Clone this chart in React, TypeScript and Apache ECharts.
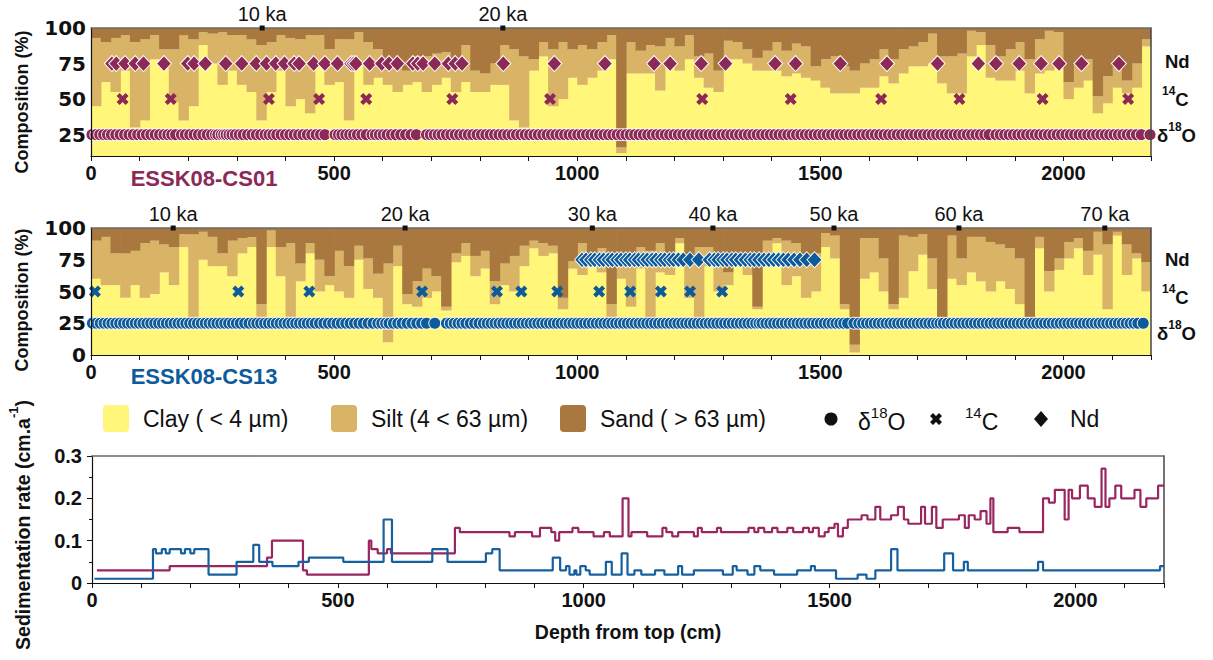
import React, { useEffect, useRef } from 'react';
import * as echarts from 'echarts';

// ---------- data ----------
const DEPTH_MAX = 2180;
const BIN_CM = 20; // composition sampled in 20-cm intervals

// Grain size composition, ESSK08-CS01 (clay %, clay+silt %), one value per 20 cm bin
const cs01Clay = [
  45, 62, 55, 70, 30, 35, 78, 72, 48, 35,
  45, 88, 75, 60, 70, 60, 55, 35, 55, 70,
  45, 50, 40, 75, 60, 62, 35, 75, 60, 65,
  60, 55, 60, 62, 55, 60, 65, 55, 62, 55,
  55, 60, 60, 35, 30, 70, 80, 45, 50, 65,
  60, 65, 70, 78, 12, 68, 68, 68, 56, 73,
  70, 78, 65, 58, 55, 78, 78, 75, 70, 70,
  70, 66, 68, 65, 63, 58, 54, 54, 54, 58,
  58, 66, 61, 68, 73, 73, 75, 61, 54, 54,
  80, 88, 65, 63, 63, 70, 54, 68, 70, 72,
  50, 58, 63, 40, 47, 58, 54, 58, 87,
];
const cs01ClaySilt = [
  93, 90, 93, 95, 90, 92, 95, 85, 85, 95,
  92, 97, 96, 97, 95, 95, 92, 88, 90, 95,
  93, 92, 95, 95, 85, 92, 92, 97, 90, 85,
  78, 75, 70, 80, 80, 82, 83, 78, 88, 70,
  68, 75, 88, 85, 80, 78, 90, 85, 90, 85,
  88, 85, 90, 95, 16, 90, 84, 88, 87, 93,
  87, 95, 80, 82, 70, 91, 90, 85, 79, 84,
  90, 84, 89, 87, 73, 78, 80, 73, 70, 75,
  78, 85, 78, 85, 87, 90, 96, 80, 80, 82,
  98, 97, 88, 80, 85, 90, 78, 92, 98, 97,
  62, 75, 78, 52, 66, 73, 63, 75, 92,
];
// ESSK08-CS13
const cs13Clay = [
  60, 55, 55, 45, 55, 45, 48, 65, 55, 85,
  25, 75, 70, 70, 62, 80, 85, 30, 85, 62,
  30, 58, 80, 50, 55, 50, 45, 75, 52, 45,
  10, 70, 40, 38, 45, 50, 35, 73, 78, 62,
  68, 40, 55, 50, 70, 84, 78, 80, 36, 68,
  63, 70, 65, 30, 60, 38, 68, 20, 65, 63,
  88, 45, 25, 70, 50, 55, 76, 63, 36, 76,
  88, 55, 62, 45, 50, 85, 76, 36, 2, 60,
  65, 50, 36, 45, 66, 79, 52, 25, 60, 55,
  65, 58, 50, 58, 52, 40, 28, 84, 50, 67,
  76, 84, 63, 79, 36, 94, 63, 76, 50,
];
const cs13ClaySilt = [
  90, 93, 80, 80, 82, 88, 90, 87, 85, 95,
  95, 97, 93, 80, 90, 92, 93, 40, 98, 85,
  88, 72, 88, 75, 62, 82, 70, 86, 76, 64,
  72, 86, 48, 58, 68, 62, 38, 80, 88, 78,
  82, 58, 72, 78, 86, 90, 88, 86, 45, 74,
  88, 76, 84, 40, 76, 80, 85, 82, 88, 80,
  92, 75, 85, 85, 78, 65, 80, 75, 38, 90,
  92, 90, 88, 76, 80, 96, 94, 40, 8, 92,
  92, 76, 40, 94, 93, 95, 76, 30, 94, 76,
  93, 93, 89, 87, 84, 76, 30, 93, 66, 76,
  89, 92, 82, 97, 87, 97, 87, 80, 73,
];

// Sample depths (cm) for each analysis
const cs01O18 = [
  2, 10, 18, 26, 34, 42, 51, 60, 69, 78, 87, 96, 105, 114, 123, 132, 141, 150, 158, 166, 174,
  186, 194, 203, 212, 221, 230, 239, 248, 256, 261,
  268, 273, 278, 284, 290, 297, 305, 313, 322, 331, 340, 349, 358, 366, 374, 382, 391, 400, 409, 418, 427, 436, 445, 454, 463, 472, 481,
  502, 509, 516, 524, 532, 540, 548, 557, 566, 578,
  585, 593, 601, 609, 618, 627, 637, 647, 658, 669,
  690, 698, 706, 714, 722, 731, 740, 749, 758, 767, 776, 785, 794, 803, 812, 821, 830, 839, 848, 857,
  866, 875, 884, 893, 902, 911, 920, 929, 938, 947, 956, 965, 974, 983, 992, 1001, 1010, 1019, 1028, 1037,
  1046, 1055, 1064, 1073, 1082, 1091, 1100, 1109, 1118, 1127, 1136, 1145, 1154, 1163, 1172, 1181, 1190, 1199,
  1208, 1217, 1226, 1235, 1244, 1253, 1262, 1271, 1280, 1289, 1298, 1307, 1316, 1325, 1334, 1343, 1352, 1361,
  1370, 1379, 1388, 1397, 1406, 1415, 1424, 1433, 1442, 1451, 1460, 1469, 1478, 1487, 1496, 1505, 1514, 1523,
  1532, 1541, 1550, 1559, 1568, 1577, 1586, 1595, 1604, 1613, 1622, 1631, 1640, 1649, 1658, 1667, 1676, 1685,
  1694, 1703, 1712, 1721, 1730, 1739, 1748, 1757, 1766, 1775, 1784, 1793, 1802, 1811, 1820, 1829, 1838, 1847,
  1861, 1870, 1879, 1888, 1897, 1906, 1915, 1924, 1933, 1942, 1951, 1960, 1969, 1978, 1987, 1996, 2005, 2014,
  2023, 2032, 2041, 2050, 2059, 2068, 2077, 2086, 2095, 2104, 2113, 2122, 2131, 2140, 2150, 2160, 2178,
];
const cs01C14 = [65, 164, 366, 469, 566, 743, 944, 1257, 1439, 1625, 1786, 1957, 2133];
const cs01Nd = [
  43, 52, 70, 91, 108, 150, 199, 212, 235, 277, 310, 340, 361, 380, 398, 418, 428, 458, 481, 507,
  535, 540, 545, 573, 598, 613, 630, 662, 672, 683, 707, 735, 749, 763, 848, 953, 1057,
  1158, 1191, 1255, 1305, 1407, 1449, 1541, 1637, 1741, 1825, 1861, 1909, 1954, 1991, 2037, 2114,
];
const cs13O18 = [
  3, 11, 19, 27, 35, 43, 51, 59, 67, 75, 83, 91, 99, 107, 115, 123, 131, 139, 147, 155, 163, 171,
  179, 187, 195, 203, 211, 219, 227, 235, 243, 251, 259, 267, 275, 283, 291, 299, 307, 316, 325, 334,
  341, 349, 357, 365, 373, 381, 389, 397, 405, 413, 421, 429, 437, 445, 453, 461, 470, 479, 488, 497,
  506, 515, 524, 533, 542, 551, 560, 570, 580, 590, 598, 606,
  613, 622, 631, 640, 650, 660, 670, 680, 690, 707,
  731, 739, 747, 755, 763, 771, 780, 789, 798, 807, 815, 823, 831, 839, 847, 855, 863, 871, 879, 887,
  895, 903, 911, 919, 927, 935, 943, 951, 959, 967, 975, 983, 991, 999, 1007, 1015, 1023, 1031, 1039,
  1047, 1055, 1063, 1071, 1079, 1087, 1095, 1103, 1111, 1119, 1127, 1135, 1143, 1151, 1159, 1167, 1175,
  1183, 1191, 1199, 1207, 1215, 1223, 1231, 1239, 1247, 1255, 1263, 1271, 1279, 1287, 1295, 1303, 1311,
  1319, 1327, 1335, 1343, 1351, 1359, 1367, 1374,
  1380, 1388, 1396, 1404, 1412, 1420, 1428, 1436, 1444, 1452, 1460, 1468, 1476, 1484, 1492, 1500, 1508,
  1516, 1524, 1532, 1540, 1548, 1556, 1569,
  1579, 1587, 1595, 1603, 1611, 1619, 1627, 1635, 1643, 1651, 1659, 1667, 1675, 1683, 1691, 1699, 1707,
  1715, 1723, 1731, 1739, 1746,
  1753, 1761, 1769, 1777, 1785, 1793, 1801, 1809, 1817, 1825, 1833, 1841, 1849, 1857, 1865, 1873, 1881,
  1889, 1897, 1905, 1913, 1921, 1929, 1937, 1945, 1953, 1961, 1969, 1977, 1985, 1993, 2001, 2009, 2017,
  2025, 2033, 2041, 2049, 2057, 2065, 2073, 2081, 2089, 2097, 2105, 2113, 2121, 2129, 2137, 2145, 2153, 2164,
];
const cs13C14 = [8, 303, 449, 681, 835, 885, 959, 1045, 1109, 1172, 1232, 1298];
const cs13Nd = [
  1010, 1018, 1028, 1036, 1046, 1054, 1064, 1072, 1082, 1090, 1100, 1108, 1118, 1126, 1136, 1144,
  1154, 1162, 1172, 1180, 1190, 1198, 1208, 1218, 1232, 1250, 1272, 1282, 1290, 1300, 1308, 1318,
  1326, 1336, 1346, 1356, 1364, 1374, 1384, 1394, 1404, 1414, 1424, 1434, 1446, 1458, 1472, 1488,
];

// Age tie points along the top of each core
const cs01AgeDepth = [352, 847];
const cs01AgeLabel = ['10 ka', '20 ka'];
const cs13AgeDepth = [169, 646, 1031, 1279, 1528, 1785, 2085];
const cs13AgeLabel = ['10 ka', '20 ka', '30 ka', '40 ka', '50 ka', '60 ka', '70 ka'];

// Sedimentation rate (cm/a): depth where each step starts, and its value
const cs01SedDepth = [
  10, 158, 356, 366, 429, 437, 563, 568, 581, 600, 608, 738, 748, 849, 860, 895, 911, 934, 942, 950,
  977, 989, 1020, 1041, 1053, 1079, 1091, 1097, 1129, 1160, 1168, 1180, 1192, 1224, 1232, 1240, 1271, 1279, 1335, 1347,
  1355, 1367, 1383, 1394, 1414, 1426, 1446, 1458, 1466, 1478, 1490, 1498, 1510, 1517, 1527, 1537, 1565, 1577, 1593, 1603,
  1625, 1639, 1651, 1660, 1686, 1694, 1708, 1717, 1730, 1763, 1775, 1783, 1795, 1807, 1819, 1827, 1833, 1862, 1886, 1934,
  1946, 1958, 1978, 1986, 1993, 2009, 2025, 2039, 2053, 2061, 2069, 2081, 2093, 2120, 2132, 2144, 2168,
];
const cs01SedRate = [
  0.03, 0.04, 0.06, 0.10, 0.03, 0.02, 0.10, 0.08, 0.07, 0.08, 0.07, 0.13, 0.12, 0.11, 0.12, 0.11, 0.13, 0.12, 0.10, 0.12,
  0.13, 0.12, 0.11, 0.12, 0.11, 0.20, 0.11, 0.12, 0.11, 0.13, 0.12, 0.11, 0.12, 0.11, 0.13, 0.12, 0.13, 0.12, 0.13, 0.12,
  0.13, 0.12, 0.13, 0.12, 0.13, 0.12, 0.13, 0.12, 0.13, 0.11, 0.12, 0.13, 0.14, 0.11, 0.13, 0.15, 0.16, 0.15, 0.18, 0.15,
  0.16, 0.18, 0.15, 0.14, 0.18, 0.14, 0.18, 0.13, 0.15, 0.16, 0.13, 0.16, 0.15, 0.17, 0.14, 0.20, 0.12, 0.13, 0.12, 0.20,
  0.19, 0.22, 0.15, 0.22, 0.20, 0.23, 0.20, 0.18, 0.27, 0.18, 0.20, 0.23, 0.20, 0.22, 0.18, 0.20, 0.23,
];
const cs13SedDepth = [
  5, 124, 130, 142, 150, 158, 181, 189, 200, 208, 237, 294, 328, 340, 367, 420, 441, 511, 593, 610,
  692, 723, 801, 814, 829, 937, 952, 964, 971, 981, 985, 993, 1004, 1012, 1033, 1045, 1057, 1077, 1089, 1103,
  1117, 1145, 1164, 1192, 1200, 1224, 1283, 1303, 1311, 1333, 1347, 1359, 1387, 1434, 1462, 1470, 1513, 1557, 1575, 1593,
  1625, 1638, 1733, 1751, 1773, 1781, 1924, 1934, 2172,
];
const cs13SedRate = [
  0.01, 0.08, 0.07, 0.08, 0.07, 0.08, 0.07, 0.08, 0.07, 0.08, 0.02, 0.05, 0.09, 0.05, 0.04, 0.05, 0.06, 0.05, 0.15, 0.05,
  0.08, 0.05, 0.07, 0.08, 0.03, 0.06, 0.03, 0.04, 0.02, 0.03, 0.02, 0.04, 0.03, 0.02, 0.02, 0.05, 0.02, 0.07, 0.02, 0.03,
  0.02, 0.03, 0.02, 0.04, 0.02, 0.03, 0.02, 0.04, 0.03, 0.02, 0.04, 0.03, 0.02, 0.03, 0.04, 0.03, 0.01, 0.02, 0.01, 0.03,
  0.08, 0.03, 0.07, 0.03, 0.05, 0.03, 0.05, 0.03, 0.04,
];

// ---------- style ----------
const CLAY = '#fff67a';
const SILT = '#d9b467';
const SAND = '#a9783f';
const PURPLE = '#8c2956';
const BLUE = '#0d5b9a';
const LINE_PURPLE = '#9a2660';
const LINE_BLUE = '#17609f';
const SANS = "'Liberation Sans', Arial, Helvetica, sans-serif";
const NARROW = "'Liberation Sans Narrow', 'Liberation Sans', Arial, sans-serif";
const WIDE = "'DejaVu Sans', 'Liberation Sans', sans-serif";
const CROSS = 'path://M2.5,0 L5,2.5 L7.5,0 L10,2.5 L7.5,5 L10,7.5 L7.5,10 L5,7.5 L2.5,10 L0,7.5 L2.5,5 L0,2.5 Z';

function layers(clay: number[], claySilt: number[]) {
  const c: number[][] = [], s: number[][] = [], d: number[][] = [];
  clay.forEach((v, i) => {
    const x0 = i * BIN_CM;
    const x1 = Math.min((i + 1) * BIN_CM, DEPTH_MAX);
    c.push([x0, x1, 0, v]);
    s.push([x0, x1, v, claySilt[i]]);
    d.push([x0, x1, claySilt[i], 100]);
  });
  return [c, s, d];
}

function rectRenderer(color: string) {
  return (params: any, api: any) => {
    const a = api.coord([api.value(0), api.value(3)]);
    const b = api.coord([api.value(1), api.value(2)]);
    const cs = params.coordSys;
    const shape = echarts.graphic.clipRectByRect(
      { x: a[0], y: a[1], width: b[0] - a[0] + 0.7, height: b[1] - a[1] },
      { x: cs.x, y: cs.y, width: cs.width, height: cs.height }
    );
    if (!shape) return null;
    return { type: 'rect', shape, style: { fill: color } };
  };
}

function compSeries(gi: number, clay: number[], claySilt: number[]) {
  const [c, s, d] = layers(clay, claySilt);
  const mk = (data: number[][], color: string) => ({
    type: 'custom',
    xAxisIndex: gi * 2,
    yAxisIndex: gi * 2,
    renderItem: rectRenderer(color),
    encode: { x: [0, 1], y: [2, 3] },
    data,
    z: 1,
    silent: true,
  });
  return [mk(c, CLAY), mk(s, SILT), mk(d, SAND)];
}

function markerSeries(gi: number, color: string, o18: number[], c14: number[], nd: number[], ageD: number[], ageL: string[]) {
  const base = { type: 'scatter', xAxisIndex: gi * 2, yAxisIndex: gi * 2, clip: false, silent: true };
  return [
    { ...base, symbol: 'circle', symbolSize: 12, z: 6, data: o18.map((d) => [d, 25]),
      itemStyle: { color, borderColor: '#ffffff', borderWidth: 1, opacity: 1 } },
    { ...base, symbol: CROSS, symbolSize: 12, z: 6, data: c14.map((d) => [d, 50]),
      itemStyle: { color, opacity: 1 } },
    { ...base, symbol: 'diamond', symbolSize: [15, 16], z: 6, data: nd.map((d) => [d, 75]),
      itemStyle: { color, borderColor: '#ffffff', borderWidth: 1, opacity: 1 } },
    { ...base, symbol: 'rect', symbolSize: 5, z: 12, data: ageD.map((d) => [d, 100]),
      itemStyle: { color: '#111', opacity: 1 },
      label: { show: true, position: 'top', distance: 2, color: '#111', fontFamily: SANS, fontSize: 20,
        formatter: (p: any) => ageL[p.dataIndex] } },
  ];
}

function stepData(depths: number[], rates: number[]) {
  const out = depths.map((d, i) => [d, rates[i]]);
  out.push([DEPTH_MAX, rates[rates.length - 1]]);
  return out;
}

const xBottom = (gi: number) => ({
  type: 'value', gridIndex: gi, min: 0, max: DEPTH_MAX, interval: 100, position: 'bottom', z: 10,
  axisLine: { show: true, onZero: false, lineStyle: { color: '#111', width: 1.2 } },
  axisTick: { show: true, length: 5, lineStyle: { color: '#111', width: 1 } },
  axisLabel: { show: true, margin: 7, color: '#111', fontFamily: SANS, fontWeight: 'bold', fontSize: 20,
    formatter: (v: number) => (v % 500 === 0 ? String(v) : '') },
  splitLine: { show: false },
});
const xTop = (gi: number) => ({
  type: 'value', gridIndex: gi, min: 0, max: DEPTH_MAX, position: 'top', z: 10,
  axisLine: { show: true, onZero: false, lineStyle: { color: '#6a6a6a', width: 1.5 } },
  axisTick: { show: false }, axisLabel: { show: false }, splitLine: { show: false },
});
const yRight = (gi: number, min: number, max: number) => ({
  type: 'value', gridIndex: gi, min, max, position: 'right', z: 10,
  axisLine: { show: true, onZero: false, lineStyle: { color: '#444', width: 1.5 } },
  axisTick: { show: false }, axisLabel: { show: false }, splitLine: { show: false },
});

function rich(main: string, sup: string, after: string, size: number, weight: string, family: string, supFirst = false) {
  const r = {
    m: { fontSize: size, fontWeight: weight, fontFamily: family, fill: '#111', color: '#111', lineHeight: size + 6, verticalAlign: 'bottom' },
    s: { fontSize: Math.round(size * 0.66), fontWeight: weight, fontFamily: family, fill: '#111', color: '#111', lineHeight: Math.round(size * 0.75), verticalAlign: 'top' },
  };
  const text = supFirst ? `{s|${sup}}{m|${after}}` : `{m|${main}}{s|${sup}}{m|${after}}`;
  return { text, rich: r };
}

function textEl(x: number, y: number, text: string, size: number, weight: string, family: string, fill = '#111', align = 'left', rotation = 0) {
  return {
    type: 'text', x, y, rotation, z: 20,
    style: { text, fill, fontSize: size, fontWeight: weight, fontFamily: family,
      align, textAlign: align, verticalAlign: 'middle', textVerticalAlign: 'middle' },
  };
}
function richEl(x: number, y: number, r: any, align = 'left', rotation = 0) {
  return {
    type: 'text', x, y, rotation, z: 20,
    style: { ...r, fill: '#111', align, textAlign: align, verticalAlign: 'middle', textVerticalAlign: 'middle' },
  };
}

export default function App() {
  const ref = useRef<HTMLDivElement>(null);
  useEffect(() => {
    document.body.style.margin = '0';
    if (!ref.current) return;
    const chart = echarts.init(ref.current, undefined, { renderer: 'svg' });

    const grids = [
      { left: 91, top: 28, width: 1060, height: 128 },
      { left: 91, top: 228, width: 1060, height: 127 },
      { left: 92, top: 456, width: 1072, height: 127 },
    ];

    const option: any = {
      animation: false,
      backgroundColor: '#ffffff',
      grid: grids.map((g) => ({ ...g, containLabel: false })),
      xAxis: [xBottom(0), xTop(0), xBottom(1), xTop(1), xBottom(2), xTop(2)],
      yAxis: [
        { type: 'value', gridIndex: 0, min: 10, max: 100, interval: 5, z: 10,
          axisLine: { show: true, onZero: false, lineStyle: { color: '#111', width: 1.2 } },
          axisTick: { show: false }, splitLine: { show: false },
          axisLabel: { margin: 5, color: '#111', fontFamily: WIDE, fontWeight: 'bold', fontSize: 20,
            formatter: (v: number) => ([25, 50, 75, 100].includes(v) ? String(v) : '') } },
        yRight(0, 10, 100),
        { type: 'value', gridIndex: 1, min: 0, max: 100, interval: 25, z: 10,
          axisLine: { show: true, onZero: false, lineStyle: { color: '#111', width: 1.2 } },
          axisTick: { show: false }, splitLine: { show: false },
          axisLabel: { margin: 5, color: '#111', fontFamily: WIDE, fontWeight: 'bold', fontSize: 20 } },
        yRight(1, 0, 100),
        { type: 'value', gridIndex: 2, min: 0, max: 0.3, interval: 0.1, z: 10,
          axisLine: { show: true, onZero: false, lineStyle: { color: '#111', width: 1.2 } },
          axisTick: { show: true, length: 5, lineStyle: { color: '#111' } },
          minorTick: { show: true, splitNumber: 2, length: 3, lineStyle: { color: '#111' } },
          splitLine: { show: false },
          axisLabel: { margin: 10, color: '#111', fontFamily: SANS, fontWeight: 'bold', fontSize: 20 } },
        yRight(2, 0, 0.3),
      ],
      series: [
        ...compSeries(0, cs01Clay, cs01ClaySilt),
        ...compSeries(1, cs13Clay, cs13ClaySilt),
        ...markerSeries(0, PURPLE, cs01O18, cs01C14, cs01Nd, cs01AgeDepth, cs01AgeLabel),
        ...markerSeries(1, BLUE, cs13O18, cs13C14, cs13Nd, cs13AgeDepth, cs13AgeLabel),
        { type: 'line', xAxisIndex: 4, yAxisIndex: 4, step: 'end', showSymbol: false, symbol: 'none',
          data: stepData(cs01SedDepth, cs01SedRate), lineStyle: { color: LINE_PURPLE, width: 2.2 }, z: 3, silent: true },
        { type: 'line', xAxisIndex: 4, yAxisIndex: 4, step: 'end', showSymbol: false, symbol: 'none',
          data: stepData(cs13SedDepth, cs13SedRate), lineStyle: { color: LINE_BLUE, width: 2.2 }, z: 4, silent: true },
      ],
      graphic: [
        // axis titles
        textEl(22, 102, 'Composition (%)', 18, 'bold', SANS, '#111', 'center', Math.PI / 2),
        textEl(22, 300, 'Composition (%)', 18, 'bold', SANS, '#111', 'center', Math.PI / 2),
        richEl(20, 525, rich('Sedimentation rate (cm.a', '-1', ')', 19.5, 'bold', SANS), 'center', Math.PI / 2),
        textEl(628, 632, 'Depth from top (cm)', 19.5, 'bold', SANS, '#111', 'center'),
        // core names
        textEl(204, 178, 'ESSK08-CS01', 22, 'bold', SANS, PURPLE, 'center'),
        textEl(204, 376, 'ESSK08-CS13', 22, 'bold', SANS, BLUE, 'center'),
        // row labels, right side
        textEl(1165, 61, 'Nd', 18.5, 'bold', SANS),
        richEl(1162, 97, rich('', '14', 'C', 18.5, 'bold', SANS, true)),
        richEl(1157, 133, rich('δ', '18', 'O', 18.5, 'bold', SANS)),
        textEl(1165, 259, 'Nd', 18.5, 'bold', SANS),
        richEl(1162, 295, rich('', '14', 'C', 18.5, 'bold', SANS, true)),
        richEl(1157, 331, rich('δ', '18', 'O', 18.5, 'bold', SANS)),
        // legend
        { type: 'rect', shape: { x: 103, y: 405, width: 26, height: 27, r: 4 }, style: { fill: CLAY }, z: 20 },
        textEl(143, 419, 'Clay ( < 4 µm)', 23, 'normal', NARROW),
        { type: 'rect', shape: { x: 331, y: 405, width: 26, height: 27, r: 4 }, style: { fill: SILT }, z: 20 },
        textEl(371, 419, 'Silt (4 < 63 µm)', 23, 'normal', NARROW),
        { type: 'rect', shape: { x: 560, y: 405, width: 26, height: 27, r: 4 }, style: { fill: SAND }, z: 20 },
        textEl(600, 419, 'Sand ( > 63 µm)', 23, 'normal', NARROW),
        { type: 'circle', shape: { cx: 831, cy: 419, r: 6.5 }, style: { fill: '#111' }, z: 20 },
        richEl(858, 419, rich('δ', '18', 'O', 23, 'normal', NARROW)),
        { type: 'polygon', z: 20, style: { fill: '#111' },
          shape: { points: [[2.5, 0], [5, 2.5], [7.5, 0], [10, 2.5], [7.5, 5], [10, 7.5], [7.5, 10], [5, 7.5], [2.5, 10], [0, 7.5], [2.5, 5], [0, 2.5]]
            .map((p) => [930 + p[0] * 1.2, 413 + p[1] * 1.2]) } },
        richEl(965, 419, rich('', '14', 'C', 23, 'normal', NARROW, true)),
        { type: 'polygon', z: 20, style: { fill: '#111' },
          shape: { points: [[1041, 411], [1048, 419], [1041, 427], [1034, 419]] } },
        textEl(1070, 419, 'Nd', 23, 'normal', NARROW),
      ],
    };
    chart.setOption(option);
    return () => chart.dispose();
  }, []);
  return <div ref={ref} style={{ width: 1213, height: 660 }} />;
}
